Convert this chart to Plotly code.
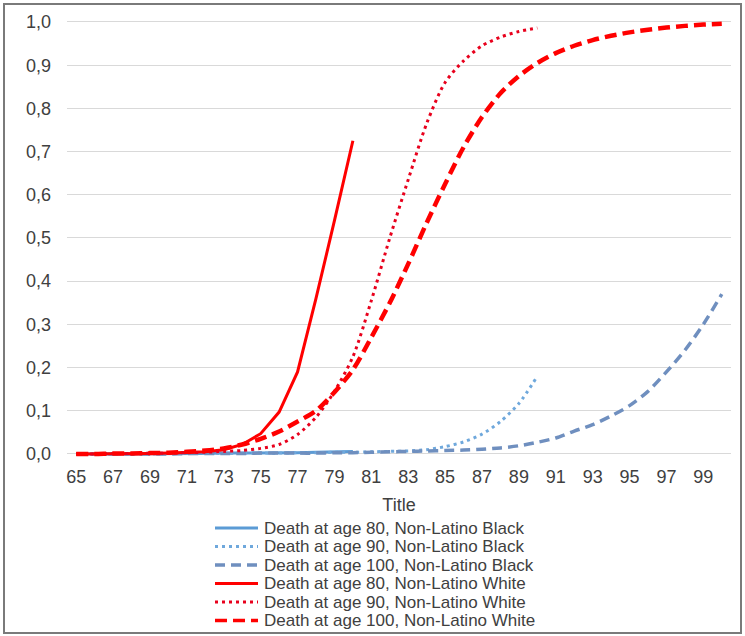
import plotly.graph_objects as go

# Ages (x categories) and cumulative probabilities
ages = list(range(65, 101))

black_80 = [0.000, 0.000, 0.000, 0.000, 0.001, 0.001, 0.001, 0.001, 0.002, 0.002,
            0.002, 0.003, 0.003, 0.004, 0.005, 0.006]
black_90 = [0.000, 0.000, 0.000, 0.000, 0.000, 0.001, 0.001, 0.001, 0.001, 0.002,
            0.002, 0.002, 0.003, 0.003, 0.004, 0.004, 0.005, 0.006, 0.007, 0.010,
            0.017, 0.028, 0.046, 0.075, 0.117, 0.180]
black_100 = [0.000, 0.000, 0.000, 0.000, 0.000, 0.000, 0.001, 0.001, 0.001, 0.001,
             0.002, 0.002, 0.002, 0.002, 0.003, 0.003, 0.004, 0.005, 0.006, 0.007,
             0.008, 0.009, 0.011, 0.014, 0.019, 0.027, 0.037, 0.053, 0.068, 0.088,
             0.112, 0.145, 0.190, 0.240, 0.300, 0.370]
white_80 = [0.000, 0.000, 0.000, 0.001, 0.001, 0.002, 0.003, 0.005, 0.010, 0.022,
            0.047, 0.097, 0.190, 0.360, 0.540, 0.725]
white_90 = [0.000, 0.000, 0.001, 0.001, 0.002, 0.002, 0.003, 0.004, 0.006, 0.008,
            0.013, 0.022, 0.045, 0.085, 0.145, 0.225, 0.355, 0.500, 0.635, 0.765,
            0.860, 0.910, 0.945, 0.965, 0.978, 0.986]
white_100 = [0.000, 0.000, 0.001, 0.001, 0.002, 0.003, 0.005, 0.008, 0.013, 0.022,
             0.035, 0.052, 0.075, 0.100, 0.143, 0.195, 0.270, 0.350, 0.440, 0.535,
             0.625, 0.710, 0.780, 0.835, 0.875, 0.905, 0.928, 0.945, 0.958, 0.968,
             0.976, 0.982, 0.987, 0.991, 0.994, 0.996]

names = [
    "Death at age 80, Non-Latino Black",
    "Death at age 90, Non-Latino Black",
    "Death at age 100, Non-Latino Black",
    "Death at age 80, Non-Latino White",
    "Death at age 90, Non-Latino White",
    "Death at age 100, Non-Latino White",
]
values = [black_80, black_90, black_100, white_80, white_90, white_100]

# styling per series: colour, width, dash, shape
styles = [
    ("#5B9BD5", 3, "solid", "linear"),
    ("#6FA8DC", 3, "3px,4px", "spline"),
    ("#6F8FBF", 3.5, "10px,6px", "spline"),
    ("#FF0000", 3, "solid", "linear"),
    ("#E8001C", 3, "3px,4px", "spline"),
    ("#FF0000", 4.5, "12px,6px", "spline"),
]

W, H = 745, 636
L, R, T, B = 67, 14, 20, 179
pw, ph = W - L - R, H - T - B

def px_x(p):
    return (p - L) / pw

def px_y(p):
    return (H - B - p) / ph

FONT = "Liberation Sans, Arial, sans-serif"
TXT = "#404040"

fig = go.Figure()
for name, vals, (col, wd, dash, shp) in zip(names, values, styles):
    fig.add_trace(go.Scatter(
        x=ages[:len(vals)], y=vals, name=name, mode="lines",
        line=dict(color=col, width=wd, dash=dash, shape=shp, smoothing=0.8),
        showlegend=False,
    ))

# legend drawn by hand so the rows sit as tight as the original
row0, gap = 528, 18.5
for i, (name, (col, wd, dash, shp)) in enumerate(zip(names, styles)):
    yy = px_y(row0 + i * gap)
    fig.add_shape(type="line", xref="paper", yref="paper",
                  x0=px_x(215), x1=px_x(258), y0=yy, y1=yy,
                  line=dict(color=col, width=min(wd, 3.5), dash=dash))
    fig.add_annotation(text=name, xref="paper", yref="paper",
                       x=px_x(262), y=yy, xanchor="left", yanchor="middle",
                       showarrow=False, font=dict(size=17, color=TXT, family=FONT))

# outer chart border
fig.add_shape(type="rect", xref="paper", yref="paper",
              x0=px_x(4), x1=px_x(741), y0=px_y(633), y1=px_y(4),
              line=dict(color="#7A7A7A", width=2), layer="below")

fig.update_layout(
    width=W, height=H,
    margin=dict(l=L, r=R, t=T, b=B),
    paper_bgcolor="white", plot_bgcolor="white",
    separators=", ",
    font=dict(family=FONT, size=18, color=TXT),
)
fig.update_xaxes(
    range=[64.5, 100.5], tickmode="array", tickvals=ages[::2],
    showgrid=False, zeroline=False, showline=False, ticks="",
    ticklabelstandoff=7,
    title=dict(text="Title", font=dict(size=18, color=TXT), standoff=12),
)
fig.update_yaxes(
    range=[-0.007, 1.0046], tick0=0, dtick=0.1, tickformat=".1f",
    showgrid=True, gridcolor="#D9D9D9", gridwidth=1,
    zeroline=True, zerolinecolor="#D9D9D9", zerolinewidth=1,
    showline=False, ticks="", ticklabelstandoff=15,
)

# drop the page's default body margin so the figure fills the window
fig.write_html("out.html", config={"displayModeBar": False},
               post_script="document.body.style.margin='0';")
